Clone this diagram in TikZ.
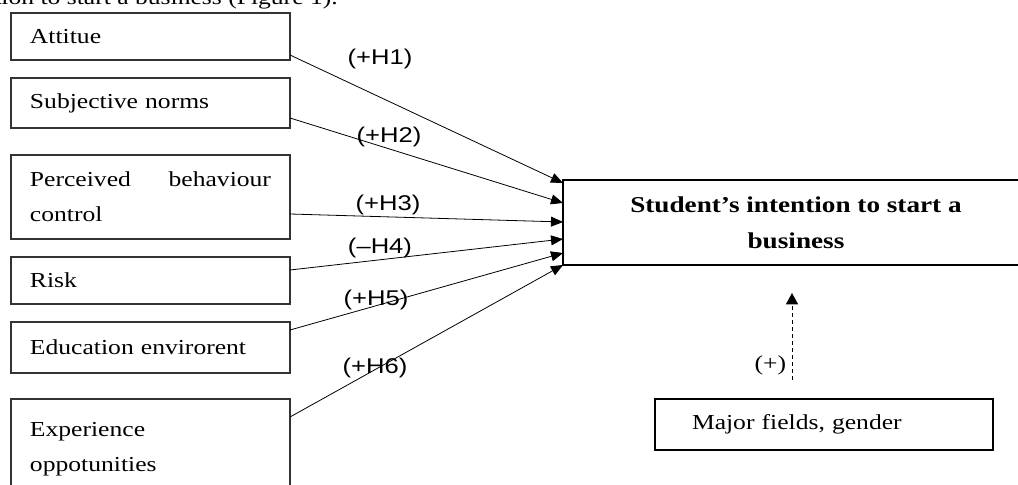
\documentclass[tikz,border=0pt]{standalone}
\usepackage{fontspec}
\setmainfont{Liberation Serif}[FakeStretch=1.2]
\newfontfamily\hfont{Liberation Sans}[FakeStretch=1.2]
\usetikzlibrary{positioning,calc,arrows.meta}

\begin{document}
\begin{tikzpicture}[x=0.75pt,y=-0.75pt,
  factor/.style={draw=black!80,line width=0.8pt,anchor=north west,text width=180.75pt,inner xsep=14.25pt,inner ysep=0pt,outer sep=0pt,align=left,font=\fontsize{16}{26}\selectfont},
  hyp/.style={font=\hfont\fontsize{16}{19}\selectfont,inner sep=0pt},
  link/.style={line width=0.6pt,-{Triangle[length=9pt,width=7.5pt]}}]
\useasboundingbox (0,0) rectangle (1018,485);
\clip (0,0) rectangle (1018,485);
\node[anchor=base east,font=\fontsize{16}{19}\selectfont,inner sep=0pt] (cap) at (338,5) {ntion to start a business (Figure 1).};
\node[factor,minimum height=35.25pt] (att) at (11,13) {Attitue};
\node[factor,minimum height=37.5pt,below=13.5pt of att] (sub) {Subjective norms};
\node[factor,minimum height=63pt,below=20.25pt of sub] (per) {Perceived\hfill behaviour\\control};
\node[factor,minimum height=35.25pt,below=13.5pt of per] (risk) {Risk};
\node[factor,minimum height=38.25pt,below=13.5pt of risk] (edu) {Education envirorent};
\node[factor,minimum height=75pt,below=19.5pt of edu] (exp) {Experience\\oppotunities};
\node[draw,line width=1.5pt,anchor=north west,minimum width=349.5pt,minimum height=63.75pt,inner sep=0pt,outer sep=0pt,align=center,font=\bfseries\fontsize{17}{27}\selectfont] (stu) at (563,180) {Student’s intention to start a\\business};
\node[draw,line width=1pt,anchor=north west,text width=198pt,inner xsep=27.75pt,inner ysep=0pt,outer sep=0pt,minimum height=38.25pt,align=left,font=\fontsize{16}{26}\selectfont] (maj) at (655,399) {Major fields, gender};
\draw[link] ($(att.south east)+(0,-5)$) -- ($(stu.north west)+(0,3)$);
\draw[link] ($(sub.south east)+(0,-10)$) -- ($(stu.north west)+(0,23)$);
\draw[link] ($(per.south east)+(0,-25)$) -- ($(stu.north west)+(0,42)$);
\draw[link] ($(risk.north east)+(0,13)$) -- ($(stu.north west)+(0,59)$);
\draw[link] ($(edu.north east)+(0,8)$) -- ($(stu.north west)+(0,73)$);
\draw[link] ($(exp.north east)+(0,18)$) -- (stu.south west);
\node[hyp] (h1) at (380,59) {(+H1)};
\node[hyp] (h2) at (389,137) {(+H2)};
\node[hyp] (h3) at (388,205) {(+H3)};
\node[hyp] (h4) at (380,248) {(–H4)};
\node[hyp] (h5) at (376,300) {(+H5)};
\node[hyp] (h6) at (375,368) {(+H6)};
\coordinate (mA) at (792,380);
\coordinate (mB) at (792,293);
\draw[line width=0.7pt,dash pattern=on 3pt off 2.25pt,-{Triangle[length=8.5pt,width=9pt]}] (mA) -- node[pos=0.17,left,inner sep=4pt,font=\fontsize{16}{19}\selectfont] (pl) {(+)} (mB);
\end{tikzpicture}
\end{document}
